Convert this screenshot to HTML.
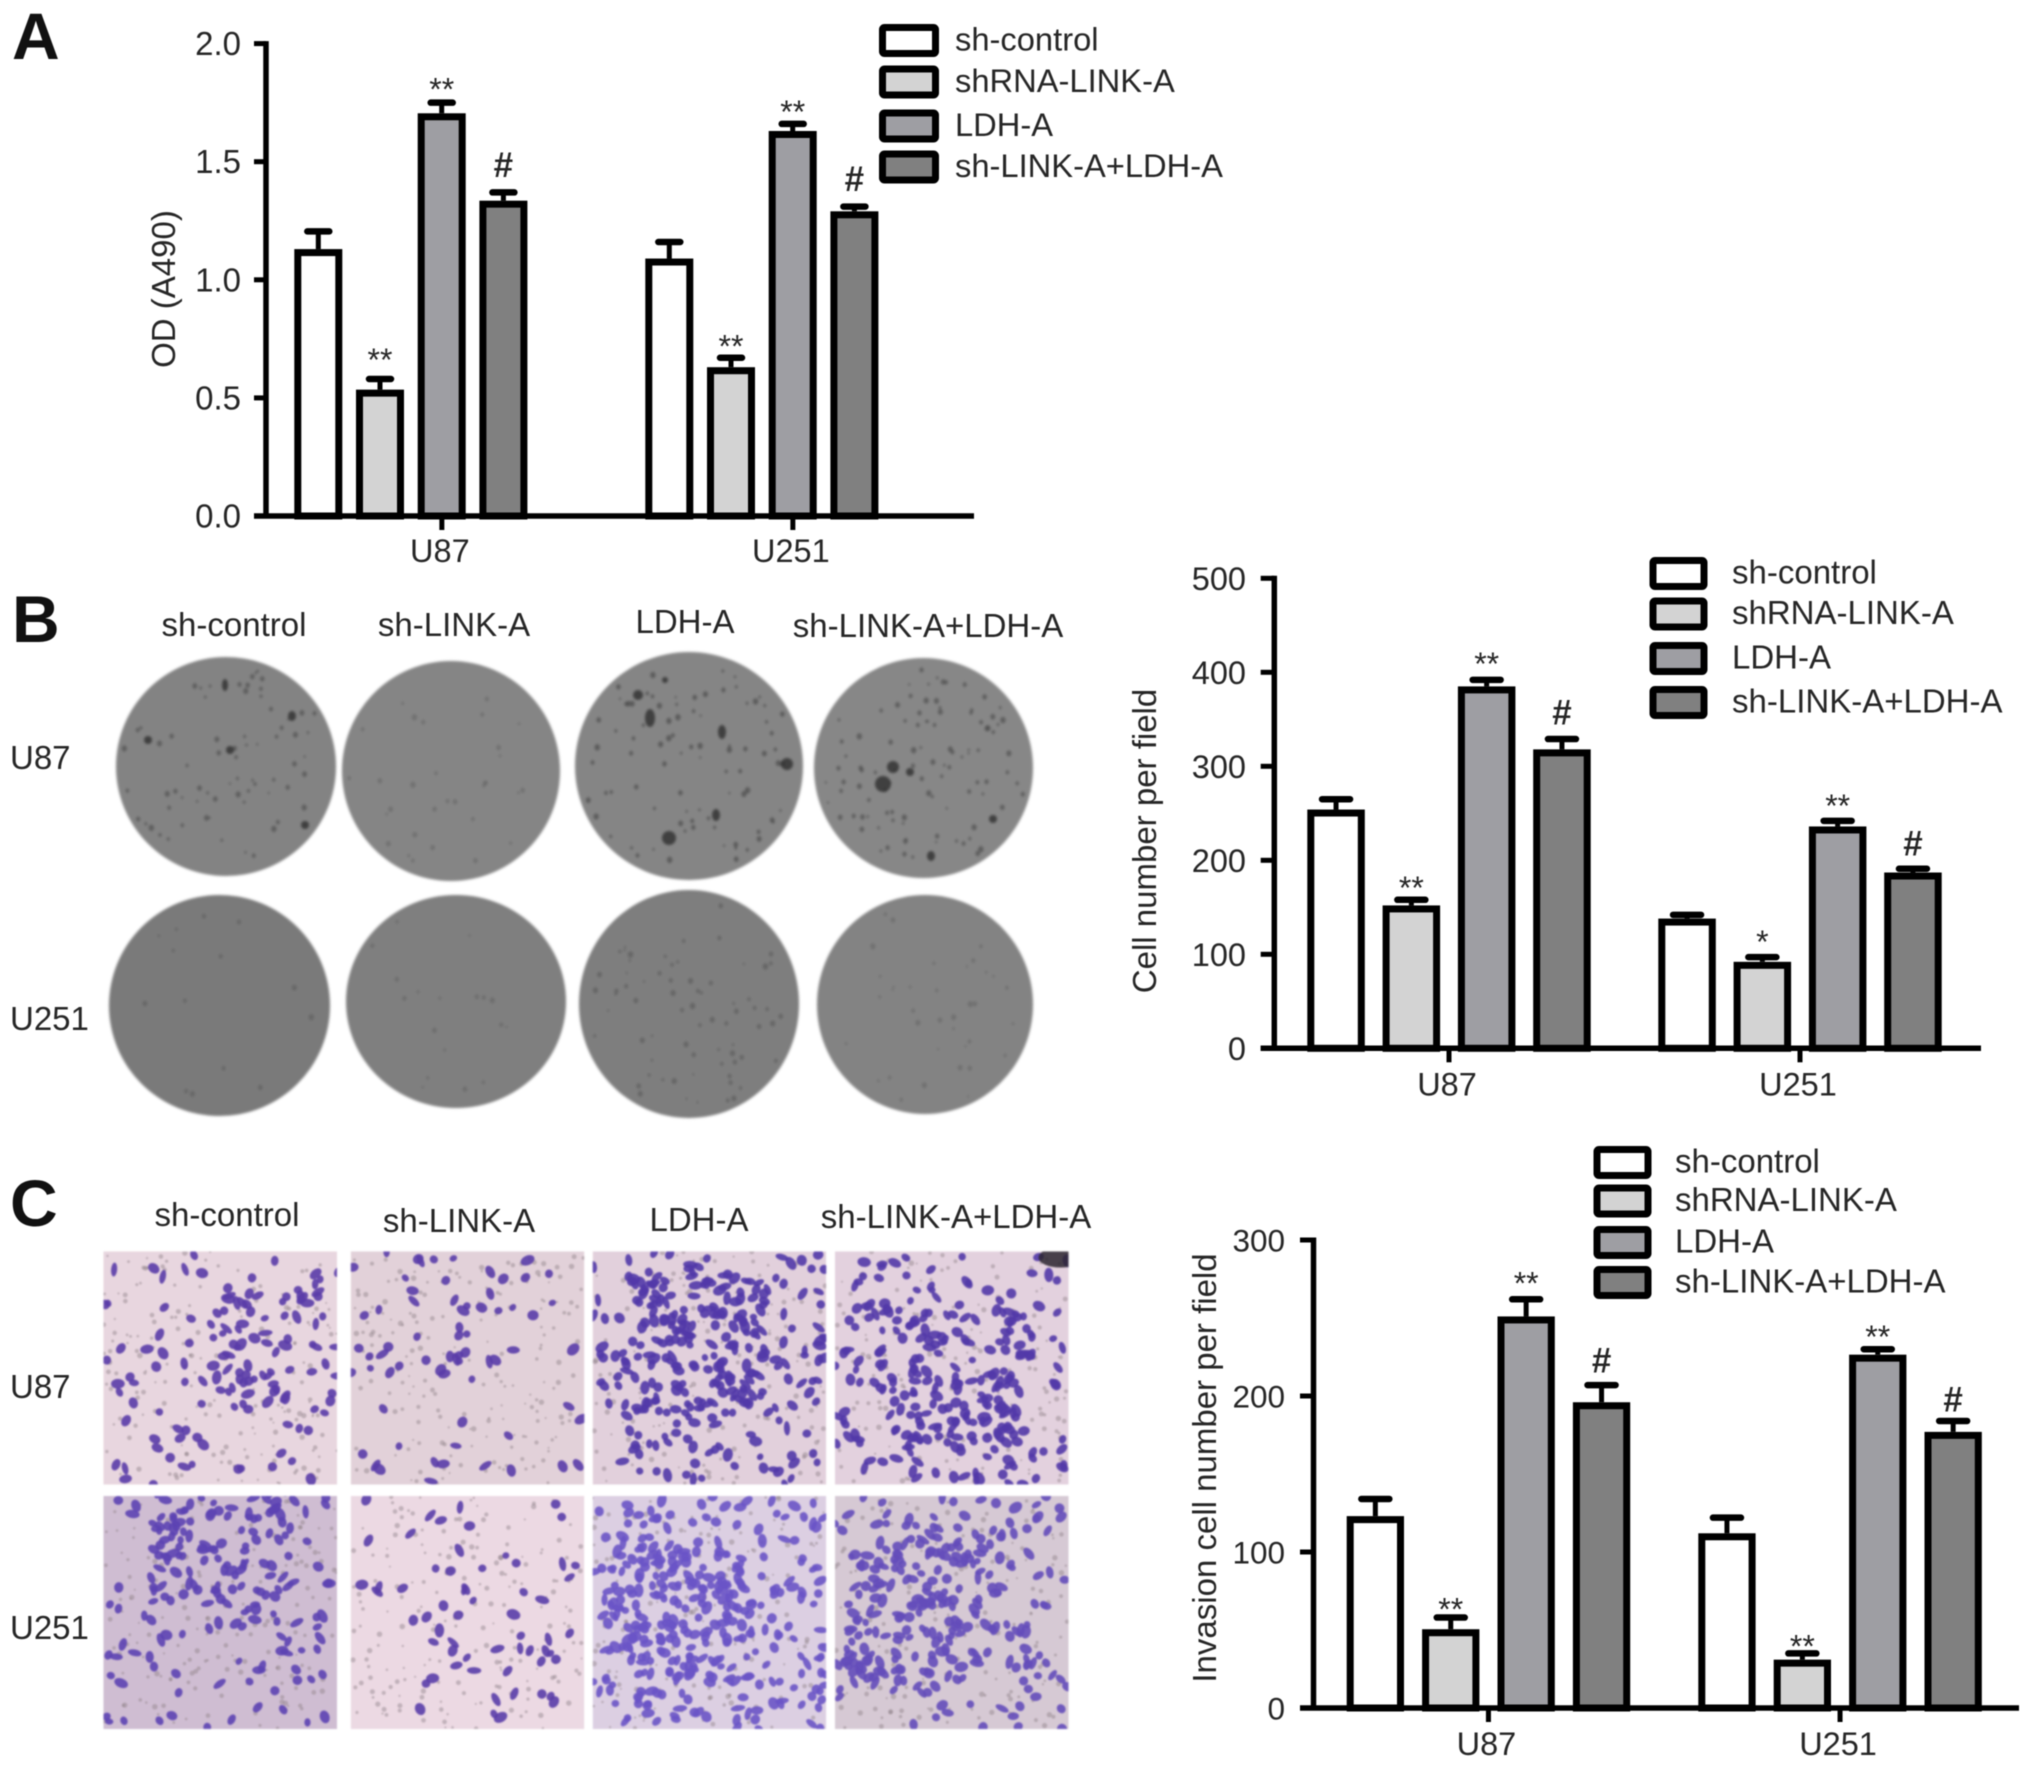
<!DOCTYPE html>
<html>
<head>
<meta charset="utf-8">
<title>LINK-A LDH-A figure</title>
<style>
html,body{margin:0;padding:0;background:#fff;width:2031px;height:1768px;overflow:hidden}
svg{display:block;filter:blur(0.6px)}
text{font-family:"Liberation Sans",Arial,sans-serif;fill:#262626}
.lbl{font-size:33px}
.panel{font-size:66px;font-weight:bold;fill:#111}
#plates{filter:blur(1.4px)}
#wells{filter:blur(0.9px)}
</style>
</head>
<body>
<svg id="fig" xmlns="http://www.w3.org/2000/svg" width="2031" height="1768" viewBox="0 0 2031 1768">
  <rect x="0" y="0" width="2031" height="1768" fill="#fff"/>
  <text class="panel" x="12" y="59">A</text>
  <text class="panel" x="12" y="642">B</text>
  <text class="panel" x="10" y="1226">C</text>

  <g id="plates"></g>
  <g id="wells"></g>

  <text class="lbl" x="234" y="636" text-anchor="middle">sh-control</text>
  <text class="lbl" x="454" y="636" text-anchor="middle">sh-LINK-A</text>
  <text class="lbl" x="685" y="633" text-anchor="middle">LDH-A</text>
  <text class="lbl" x="928" y="637" text-anchor="middle">sh-LINK-A+LDH-A</text>
  <text class="lbl" x="10" y="769">U87</text>
  <text class="lbl" x="10" y="1030">U251</text>

  <text class="lbl" x="227" y="1226" text-anchor="middle">sh-control</text>
  <text class="lbl" x="459" y="1232" text-anchor="middle">sh-LINK-A</text>
  <text class="lbl" x="699" y="1231" text-anchor="middle">LDH-A</text>
  <text class="lbl" x="956" y="1228" text-anchor="middle">sh-LINK-A+LDH-A</text>
  <text class="lbl" x="10" y="1398">U87</text>
  <text class="lbl" x="10" y="1639">U251</text>
</svg>

<script>
// ---- chart data ----
const groupNames = ["U87", "U251"];
const seriesNames = ["sh-control", "shRNA-LINK-A", "LDH-A", "sh-LINK-A+LDH-A"];
const seriesFills = ["#ffffff", "#d3d3d3", "#9e9ea3", "#808080"];

const chartATickLabels = ["0.0", "0.5", "1.0", "1.5", "2.0"];
const chartATickValues = [0, 0.5, 1, 1.5, 2];
const chartAU87Values = [1.13, 0.535, 1.705, 1.335];
const chartAU87ErrorTops = [1.205, 0.58, 1.75, 1.37];
const chartAU87Marks = ["", "**", "**", "#"];
const chartAU251Values = [1.09, 0.63, 1.63, 1.29];
const chartAU251ErrorTops = [1.16, 0.67, 1.66, 1.31];
const chartAU251Marks = ["", "**", "**", "#"];

const chartBTickLabels = ["0", "100", "200", "300", "400", "500"];
const chartBTickValues = [0, 100, 200, 300, 400, 500];
const chartBU87Values = [254, 152, 385, 318];
const chartBU87ErrorTops = [265, 158, 392, 329];
const chartBU87Marks = ["", "**", "**", "#"];
const chartBU251Values = [138, 92, 236, 187];
const chartBU251ErrorTops = [142, 97, 242, 191];
const chartBU251Marks = ["", "*", "**", "#"];

const chartCTickLabels = ["0", "100", "200", "300"];
const chartCTickValues = [0, 100, 200, 300];
const chartCU87Values = [123, 50.5, 251, 196];
const chartCU87ErrorTops = [134, 58, 262, 207];
const chartCU87Marks = ["", "**", "**", "#"];
const chartCU251Values = [112, 31, 226.5, 177];
const chartCU251ErrorTops = [122, 35, 230, 184];
const chartCU251Marks = ["", "**", "**", "#"];

// ---- helpers ----
const NS = "http://www.w3.org/2000/svg";
const fig = document.getElementById("fig");
function make(tag, attrs, parent) {
  const n = document.createElementNS(NS, tag);
  for (const k in attrs) n.setAttribute(k, attrs[k]);
  parent.appendChild(n);
  return n;
}
function seeded(a) {
  return function () {
    a |= 0; a = a + 0x6D2B79F5 | 0;
    let t = Math.imul(a ^ a >>> 15, 1 | a);
    t = t + Math.imul(t ^ t >>> 7, 61 | t) ^ t;
    return ((t ^ t >>> 14) >>> 0) / 4294967296;
  };
}

// ---- chart drawing ----
function drawChart(c) {
  const g = make("g", {}, fig);
  
  
  const yMax = c.tickValues[c.tickValues.length - 1];
  const y = v => c.y0 - v / yMax * (c.y0 - c.yTop);

  const yAxis = make("line", {x1: c.axisX, x2: c.axisX, y1: y(yMax) - 2.5, y2: c.y0 + 2.5, stroke: "#000", "stroke-width": 5.5}, g);
  
  
  const xAxis = make("line", {x1: c.tickLeft, x2: c.axisRight, y1: c.y0, y2: c.y0, stroke: "#000", "stroke-width": 5.5}, g);
  
  

  c.tickValues.forEach((v, i) => {
    const t = make("line", {x1: c.tickLeft, x2: c.axisX, y1: y(v), y2: y(v), stroke: "#000", "stroke-width": 5}, g);
    
    
    const l = make("text", {x: c.tickTextRight, y: y(v) + 11.5, "text-anchor": "end", "font-size": c.tickFont}, g);
    l.textContent = c.tickLabels[i];
    
    
  });

  const title = make("text", {transform: "translate(" + c.titleX + "," + c.titleY + ") rotate(-90)", "text-anchor": "middle", "font-size": c.titleFont}, g);
  title.textContent = c.title;
  
  

  c.groups.forEach((grp, gi) => {
    const left = c.groupLefts[gi];
    const tickX = left + (3 * c.step + c.barW) / 2 + c.tickShift;
    const xt = make("line", {x1: tickX, x2: tickX, y1: c.y0, y2: c.y0 + 14, stroke: "#000", "stroke-width": 5}, g);
    
    
    const xl = make("text", {x: tickX - 2, y: c.y0 + c.xLabelDrop, "text-anchor": "middle", "font-size": 32.5}, g);
    xl.textContent = groupNames[gi];
    
    

    grp.values.forEach((v, i) => {
      const bx = left + i * c.step;
      const cx = bx + c.barW / 2;
      const stem = make("line", {x1: cx, x2: cx, y1: y(v), y2: y(grp.tops[i]), stroke: "#000", "stroke-width": 5}, g);
      
      
      const cap = make("line", {x1: cx - c.capW / 2, x2: cx + c.capW / 2, y1: y(grp.tops[i]), y2: y(grp.tops[i]), stroke: "#000", "stroke-width": 6.5, "stroke-linecap": "round"}, g);
      
      
      const bar = make("rect", {x: bx + 3.5, y: y(v) + 3.5, width: c.barW - 7, height: c.y0 - y(v) - 3.5, fill: seriesFills[i], stroke: "#000", "stroke-width": 7}, g);
      
      
      const mark = grp.marks[i];
      if (mark) {
        const hash = mark === "#";
        const my = y(grp.tops[i]) - c.markGaps[gi][i];
        const m = make("text", {x: cx, y: my + (hash ? 12.5 : 18), "text-anchor": "middle", "font-size": hash ? 35 : 32, "font-weight": hash ? "bold" : "normal"}, g);
        m.textContent = mark;
        
        
      }
    });
  });

  seriesNames.forEach((name, i) => {
    const top = c.legendTops[i];
    const sw = make("rect", {x: c.legendX + 3.5, y: top + 3.5, width: c.legendW - 7, height: 33 - 7, fill: seriesFills[i], stroke: "#000", "stroke-width": 7, rx: 2}, g);
    
    
    const t = make("text", {x: c.legendTextX, y: top + 26.3, "font-size": c.legendFont}, g);
    t.textContent = name;
    
    
  });
}

drawChart({
  name: "od-bar-chart", title: "OD (A490)", tickValues: chartATickValues, tickLabels: chartATickLabels,
  groups: [
    {values: chartAU87Values, tops: chartAU87ErrorTops, marks: chartAU87Marks},
    {values: chartAU251Values, tops: chartAU251ErrorTops, marks: chartAU251Marks}
  ],
  y0: 516, yTop: 43.6, axisX: 266, tickLeft: 254, axisRight: 974, tickTextRight: 241, tickFont: 33,
  titleX: 175, titleY: 289, titleFont: 33, groupLefts: [294.3, 645.3], step: 61.7, barW: 48, capW: 22,
  tickShift: 31, xLabelDrop: 46, markGaps: [[0, 26, 20, 28], [0, 18, 19, 28]],
  legendTops: [24, 65.5, 109.5, 150.5], legendX: 879, legendW: 60, legendTextX: 955, legendFont: 32.7
});
drawChart({
  name: "cell-number-bar-chart", title: "Cell number per field", tickValues: chartBTickValues, tickLabels: chartBTickLabels,
  groups: [
    {values: chartBU87Values, tops: chartBU87ErrorTops, marks: chartBU87Marks},
    {values: chartBU251Values, tops: chartBU251ErrorTops, marks: chartBU251Marks}
  ],
  y0: 1048.3, yTop: 578.3, axisX: 1274.3, tickLeft: 1260.7, axisRight: 1981, tickTextRight: 1246, tickFont: 32.5,
  titleX: 1156, titleY: 841, titleFont: 33, groupLefts: [1307.3, 1658.3], step: 75.3, barW: 57.5, capW: 28,
  tickShift: 0, xLabelDrop: 47, markGaps: [[0, 19, 23, 27], [0, 22, 22, 26]],
  legendTops: [557, 597.5, 642, 686], legendX: 1649.5, legendW: 58, legendTextX: 1732, legendFont: 33
});
drawChart({
  name: "invasion-bar-chart", title: "Invasion cell number per field", tickValues: chartCTickValues, tickLabels: chartCTickLabels,
  groups: [
    {values: chartCU87Values, tops: chartCU87ErrorTops, marks: chartCU87Marks},
    {values: chartCU251Values, tops: chartCU251ErrorTops, marks: chartCU251Marks}
  ],
  y0: 1708, yTop: 1240, axisX: 1313.5, tickLeft: 1300, axisRight: 2019, tickTextRight: 1285, tickFont: 31.5,
  titleX: 1216, titleY: 1468, titleFont: 33, groupLefts: [1346.7, 1698.3], step: 75.4, barW: 57.3, capW: 28,
  tickShift: 0, xLabelDrop: 47, markGaps: [[0, 15, 23, 25], [0, 14, 19, 22]],
  legendTops: [1146, 1184.5, 1226, 1266], legendX: 1593.5, legendW: 58, legendTextX: 1675, legendFont: 33
});

// ---- colony plate photographs (approximated texture, not chart data) ----
const platesG = document.getElementById("plates");
const dishes = [
  {x0:116,x1:336,y0:657,y1:876,n:70,f:"#838383",d:"#505050"},
  {x0:342,x1:560,y0:661,y1:881,n:32,f:"#858585",d:"#6a6a6a"},
  {x0:575,x1:803,y0:652,y1:880,n:85,f:"#858585",d:"#4a4a4a"},
  {x0:814,x1:1033,y0:658,y1:878,n:100,f:"#878787",d:"#4f4f4f"},
  {x0:109,x1:330,y0:895,y1:1116,n:14,f:"#7a7a7a",d:"#616161"},
  {x0:346,x1:566,y0:895,y1:1108,n:18,f:"#7f7f7f",d:"#666666"},
  {x0:579,x1:799,y0:890,y1:1118,n:70,f:"#7e7e7e",d:"#5c5c5c"},
  {x0:817,x1:1033,y0:895,y1:1114,n:36,f:"#838383",d:"#696969"}
];
const bigSpots = [
  [225,685,3,6],[292,716,4,5],[230,750,4,4],[148,740,4,4],[305,825,4,4],
  [650,718,5,9],[787,764,6,6],[669,838,7,7],[722,732,4,7],[638,695,5,5],[716,815,4,6],[665,680,3,3],
  [883,784,8,8],[893,767,6,6],[931,856,4,5],[993,819,4,4],[910,772,4,4]
];
dishes.forEach((d, i) => {
  const rand = seeded(1000 + i * 77);
  const cx = (d.x0 + d.x1) / 2, cy = (d.y0 + d.y1) / 2, rx = (d.x1 - d.x0) / 2, ry = (d.y1 - d.y0) / 2;
  const dish = make("ellipse", {cx: cx, cy: cy, rx: rx, ry: ry, fill: d.f}, platesG);
  
  
  for (let k = 0; k < d.n; k++) {
    const a = rand() * 6.283, r = Math.sqrt(rand()) * 0.94;
    const s = 1 + rand() * 1.7;
    const spot = make("ellipse", {cx: cx + Math.cos(a) * r * rx, cy: cy + Math.sin(a) * r * ry, rx: s, ry: s * 1.2, fill: d.d, opacity: 0.7}, platesG);
    
    
  }
});
bigSpots.forEach(s => {
  const spot = make("ellipse", {cx: s[0], cy: s[1], rx: s[2], ry: s[3], fill: "#2e2e2e", opacity: 0.8}, platesG);
  
  
});

// ---- transwell micrographs (approximated texture, not chart data) ----
const wellsG = document.getElementById("wells");
const wellCols = [103.5, 350.8, 592.7, 835];
const wellRows = [1251.5, 1496];
const wellW = 233.5, wellH = 233;
const wellStyles = [
  {bg:"#e8d6df",cell:"#5a3ca8",n:135,hot:[0.72,0.38]},
  {bg:"#e2d1d9",cell:"#5a3ca8",n:70,hot:[0.3,0.22]},
  {bg:"#e2d0dc",cell:"#5238a8",n:300,hot:[0.45,0.4]},
  {bg:"#e3d1de",cell:"#5238a8",n:265,hot:[0.5,0.55]},
  {bg:"#cfbdd2",cell:"#5c42b2",n:210,hot:[0.5,0.15]},
  {bg:"#ecd9e3",cell:"#5a3da8",n:60,hot:[0.6,0.6]},
  {bg:"#dccfe2",cell:"#6a54c6",n:340,hot:[0.35,0.5]},
  {bg:"#d6c9d4",cell:"#644cba",n:270,hot:[0.35,0.5]}
];
const defs = make("defs", {}, wellsG);
wellStyles.forEach((s, i) => {
  const wx = wellCols[i % 4], wy = wellRows[i < 4 ? 0 : 1];
  const rand = seeded(5000 + i * 131);
  const clip = make("clipPath", {id: "well" + i}, defs);
  make("rect", {x: wx, y: wy, width: wellW, height: wellH}, clip);
  const g = make("g", {"clip-path": "url(#well" + i + ")"}, wellsG);
  
  
  const bgRect = make("rect", {x: wx, y: wy, width: wellW, height: wellH, fill: s.bg}, g);
  
  
  for (let k = 0; k < 190; k++) {
    const sp = make("circle", {cx: wx + rand() * wellW, cy: wy + rand() * wellH, r: 1 + rand() * 1.8, fill: "#8d8088", opacity: 0.45}, g);
    
    
  }
  for (let k = 0; k < s.n; k++) {
    let fx = rand(), fy = rand();
    if (rand() < 0.42) {
      fx = s.hot[0] + (rand() - 0.5) * 0.6;
      fy = s.hot[1] + (rand() - 0.5) * 0.6;
    }
    const px = wx + fx * wellW, py = wy + fy * wellH;
    const rx0 = 3.5 + rand() * 3.8, ry0 = 3 + rand() * 2.2;
    const blob = make("ellipse", {cx: px, cy: py, rx: rx0, ry: ry0, fill: s.cell, opacity: 0.9, transform: "rotate(" + Math.round(rand() * 180) + " " + px + " " + py + ")"}, g);
    
    
  }
  if (i === 3) {
    const corner = make("ellipse", {cx: wx + wellW - 8, cy: wy + 6, rx: 22, ry: 10, fill: "#2c2630", opacity: 0.85}, g);
    
    
  }
});
</script>
</body>
</html>
